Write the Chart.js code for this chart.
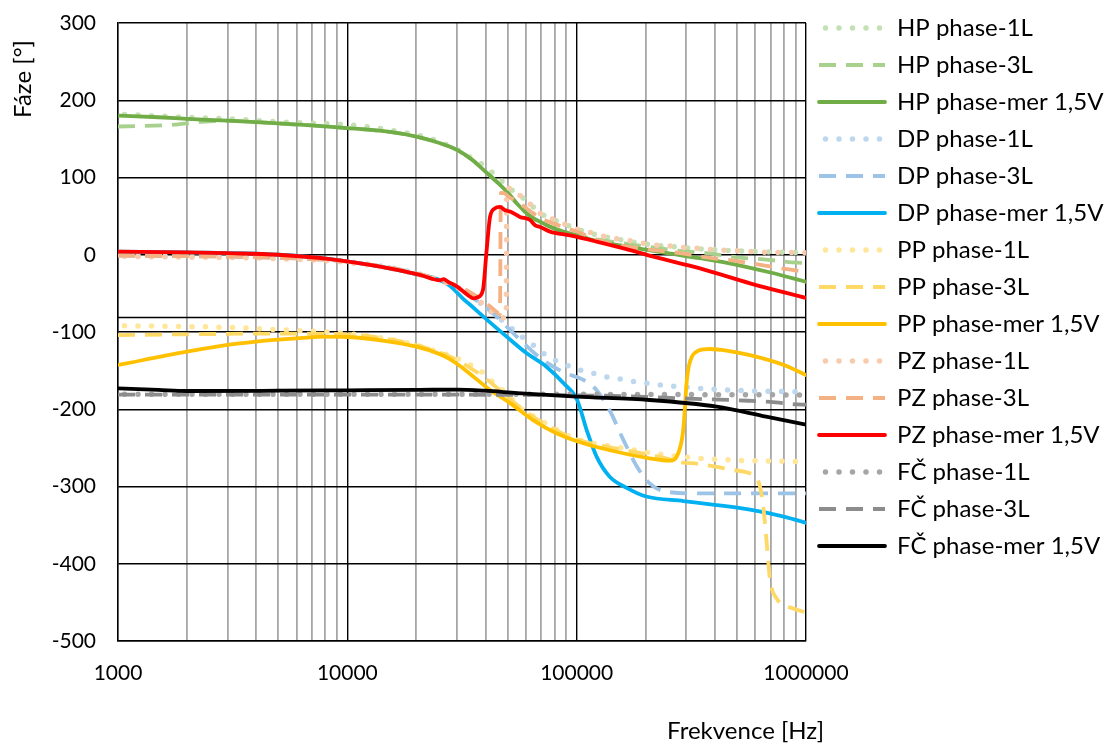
<!DOCTYPE html>
<html><head><meta charset="utf-8">
<script src="https://cdn.jsdelivr.net/npm/chart.js@4.4.1/dist/chart.umd.min.js"></script>
<style>html,body{margin:0;padding:0;background:#fff;}#wrap{width:1106px;height:745px;position:relative;}</style>
</head><body><div id="wrap"><canvas id="c"></canvas></div>
<script>
// ---- axis / tick data ----
const xDecades = [1000, 10000, 100000, 1000000];
const xMinor = [2, 3, 4, 5, 6, 7, 8, 9];
const yMin = -500, yMax = 300, yStep = 100;
const axisCross = -80;
const xTitle = 'Frekvence [Hz]';
const yTitle = 'Fáze [°]';

const seriesNames = [
  'HP phase-1L', 'HP phase-3L', 'HP phase-mer 1,5V',
  'DP phase-1L', 'DP phase-3L', 'DP phase-mer 1,5V',
  'PP phase-1L', 'PP phase-3L', 'PP phase-mer 1,5V',
  'PZ phase-1L', 'PZ phase-3L', 'PZ phase-mer 1,5V',
  'FČ phase-1L', 'FČ phase-3L', 'FČ phase-mer 1,5V'
];

// ---- series values [frequency Hz, phase °] ----
const HP_1L = [[1000,182],[2000,178],[3000,176],[5000,172],[10200,168],[15300,161.5],[20000,155],[23000,150.7],[26200,144],[29500,137.8],[33000,129],[37600,119.6],[42000,108.8],[46300,97.6],[51000,86],[57500,75],[63500,64],[71000,52],[80000,45],[90000,39],[103000,32],[135000,23],[200000,14],[300000,9],[500000,5],[1000000,2.5]];
const HP_3L = [[1000,166],[1700,168],[2300,172],[3000,173.5],[5000,170],[10000,164],[15300,159],[20000,153],[25000,145],[30000,136],[35000,123],[40000,107.5],[45000,94],[49500,82],[55000,66],[62600,50],[80000,34],[100000,25],[135000,18],[209000,10],[283000,5],[369000,2],[499000,-3.4],[652000,-5.9],[872000,-9.8],[1000000,-11]];
const HP_MER = [[1000,180],[1500,178],[2000,176],[3000,173.5],[5000,170],[7000,167.5],[10000,164],[15300,159],[20000,153],[25000,145],[30000,136],[35000,123],[40000,107.5],[45000,94],[49500,82],[55000,66],[62600,50],[70000,42],[80000,34],[100000,25],[126000,17],[171000,10],[250000,2],[345000,-4.5],[500000,-13],[700000,-23],[1000000,-35]];

const DP_1L = [[1000,-1],[5000,-4],[10000,-9],[20000,-24],[30000,-42],[35000,-55],[40000,-68],[45000,-80],[51000,-93],[57000,-105],[63500,-115],[71000,-126.8],[80000,-136],[90000,-142.7],[103000,-149],[118000,-153.5],[135000,-158],[155000,-161],[177000,-164],[202000,-166.4],[230000,-168.6],[263000,-170],[345000,-173],[450000,-175],[600000,-176.4],[795000,-177],[1000000,-178]];
const DP_3L = [[1000,-1],[5000,-4],[10000,-9],[20000,-24],[30000,-42],[35000,-55],[40000,-68],[43300,-76],[54800,-106],[71000,-136],[90000,-153.5],[107000,-162],[122000,-175],[139000,-201],[160000,-240],[183000,-274],[208000,-296],[245000,-306.7],[345000,-309],[1000000,-309]];
const DP_MER = [[1000,4],[2000,3],[5000,0],[8400,-5.6],[13900,-15.4],[20700,-26],[25400,-33],[28000,-40],[32000,-57],[35000,-67],[39200,-80],[44000,-93],[49500,-106],[60600,-127.6],[73800,-145],[87700,-166.4],[100500,-188],[110600,-227],[122000,-261],[139000,-287],[166000,-302],[201000,-313],[292000,-318.8],[408000,-324],[570000,-330],[800000,-339],[1000000,-347]];

const PP_1L = [[1000,-91.8],[2000,-93],[3000,-94],[5000,-97],[8000,-100],[10000,-102],[15000,-109],[20000,-117],[25000,-126],[29000,-132],[33200,-140.5],[38000,-150],[42000,-162],[46000,-171.5],[51000,-183.7],[56000,-196.7],[63000,-207],[71000,-216],[80000,-224.7],[90000,-233],[103000,-239.8],[118000,-244],[135000,-247],[155000,-249.7],[177000,-252.7],[202000,-256],[230000,-258],[263000,-260.5],[302000,-262],[345000,-263.5],[500000,-266],[1000000,-268]];
const PP_3L = [[1000,-104],[2000,-103],[5000,-102],[10000,-103],[15000,-109],[20000,-117],[25000,-126],[30000,-136],[35000,-148],[40000,-160],[50000,-184],[60000,-203],[80000,-226],[100000,-239],[150000,-251],[200000,-258],[255000,-265],[276000,-268],[345000,-271],[480000,-278.6],[570000,-283],[605000,-288],[630000,-300],[651000,-326],[674000,-373],[697000,-421],[745000,-445],[881000,-458],[1000000,-463]];
const PP_MER = [[1000,-142.7],[2000,-125.5],[3000,-116.8],[4000,-112.5],[5000,-110],[6200,-108],[8000,-106],[10000,-106.5],[15000,-112],[20000,-119],[25000,-128],[28000,-135],[31000,-144],[34200,-154],[41900,-175],[51200,-192],[64500,-214],[81600,-231],[107000,-244],[149000,-255],[208000,-263.5],[255000,-266.6],[272000,-262],[285000,-245],[292000,-225],[297000,-195],[301000,-168],[308000,-145],[318000,-132],[340000,-124],[380000,-122],[450000,-124],[570000,-130],[800000,-142.7],[1000000,-155.7]];

const PZ_1L = [[1000,-2],[2000,-3],[5000,-5],[10000,-10],[15000,-17],[20000,-25],[25000,-33],[30000,-42],[35000,-53],[37900,-60.7],[41900,-71.5],[46300,-80],[49300,-82],[49600,86],[51200,86],[57500,75],[63500,64],[71300,51],[80400,45],[90400,38.5],[103000,32],[118000,28],[135000,23],[154000,20],[176000,17.5],[202000,14],[230000,12],[265000,11],[302000,9],[347000,8],[398000,6.5],[455000,5.6],[523000,5],[600000,4],[688000,3],[790000,3],[909000,2.6],[1000000,2.5]];
const PZ_3L = [[1000,-1],[5000,-4],[10000,-9],[20000,-24],[30000,-40],[35000,-50],[40000,-62],[44000,-72],[46300,-77],[46700,80],[47600,80],[51200,74],[55000,69],[63000,56],[70000,47],[80000,40],[100000,30],[130000,17],[209000,6.5],[283000,2],[369000,-3.4],[499000,-8.2],[652000,-13.7],[872000,-19.7],[1000000,-22]];
const PZ_MER = [[1000,4],[2000,3],[3000,2],[5000,0],[8400,-5.6],[13900,-15.4],[20700,-26],[25400,-33],[26300,-31.5],[27500,-35],[30000,-41],[34200,-54],[35400,-56.4],[37000,-55],[39000,-46],[40500,6],[41900,49],[44000,60],[46300,62],[48500,58],[51200,56],[56600,49],[62600,45],[66000,38],[69200,36],[76500,30],[93500,25],[122000,17],[171000,6],[216000,-2.5],[345000,-17.6],[570000,-37],[1000000,-56]];

const FC_1L = [[1000,-180.6],[10000,-180.6],[100000,-180.7],[300000,-181],[1000000,-181.5]];
const FC_3L = [[1000,-181],[10000,-181],[100000,-182],[200000,-184],[290000,-186],[420000,-187.5],[560000,-189],[700000,-190.5],[910000,-193.6],[1000000,-194]];
const FC_MER = [[1000,-173],[1500,-175],[2000,-176.4],[5000,-176],[10000,-175.5],[20000,-175],[30000,-174.5],[40000,-176],[55000,-179],[100000,-183.7],[208000,-188],[408000,-196.7],[670000,-209.6],[1000000,-220]];

const seriesData = [HP_1L, HP_3L, HP_MER, DP_1L, DP_3L, DP_MER, PP_1L, PP_3L, PP_MER, PZ_1L, PZ_3L, PZ_MER, FC_1L, FC_3L, FC_MER];
const seriesColors = ['#C5E0B4','#A9D18E','#70AD47','#BDD7EE','#9DC3E6','#00B0F0','#FFE699','#FFD966','#FFC000','#F8CBAD','#F4B183','#FF0000','#A5A5A5','#8C8C8C','#000000'];
const seriesKind = ['dot','dash','solid','dot','dash','solid','dot','dash','solid','dot','dash','solid','dot','dash','solid'];

// ---- styles ----
const FONT = 'Lato, "Open Sans", sans-serif';
const styleFor = {
  dot:   {borderWidth: 5.5, borderDash: [0, 13.5], borderCapStyle: 'round', borderDashOffset: 7},
  dash:  {borderWidth: 3.8, borderDash: [17, 10],  borderCapStyle: 'butt',  borderDashOffset: 0},
  solid: {borderWidth: 3.8, borderDash: [],        borderCapStyle: 'round', borderDashOffset: 0}
};

const datasets = seriesData.map((d, i) => Object.assign({
  label: seriesNames[i],
  data: d,
  borderColor: seriesColors[i],
  backgroundColor: seriesColors[i],
  pointRadius: 0,
  pointHoverRadius: 0,
  fill: false,
  cubicInterpolationMode: 'monotone',
  borderJoinStyle: 'round',
  order: -i
}, styleFor[seriesKind[i]]));

const gridValues = [];
xDecades.forEach((d, k) => {
  gridValues.push(d);
  if (k < xDecades.length - 1) xMinor.forEach(m => gridValues.push(d * m));
});

const crossLine = {
  id: 'crossLine',
  beforeDatasetsDraw(chart) {
    const {ctx, chartArea, scales} = chart;
    const y = Math.round(scales.y.getPixelForValue(axisCross)) + 0.5;
    ctx.save();
    ctx.strokeStyle = '#000';
    ctx.lineWidth = 1.5;
    ctx.beginPath();
    ctx.moveTo(chartArea.left, y);
    ctx.lineTo(chartArea.right, y);
    ctx.stroke();
    ctx.restore();
  }
};

const axisTitles = {
  id: 'axisTitles',
  afterDraw(chart) {
    const {ctx, chartArea} = chart;
    ctx.save();
    ctx.fillStyle = '#000';
    ctx.font = '24px ' + FONT;
    ctx.textAlign = 'right';
    ctx.textBaseline = 'middle';
    ctx.fillText(xTitle, chartArea.right + 18, chartArea.bottom + 90);
    ctx.translate(23, chartArea.top + 56);
    ctx.rotate(-Math.PI / 2);
    ctx.textAlign = 'center';
    ctx.fillText(yTitle, 0, 0);
    ctx.restore();
  }
};

function legendItems(chart) {
  return chart.data.datasets.map((ds, i) => ({
    text: ds.label,
    fillStyle: ds.borderColor,
    strokeStyle: ds.borderColor,
    fontColor: '#000',
    lineWidth: ds.borderWidth,
    lineDash: ds.borderDash,
    lineDashOffset: ds.borderDashOffset,
    lineCap: ds.borderCapStyle,
    lineJoin: 'round',
    pointStyle: 'line',
    hidden: false,
    datasetIndex: i
  }));
}

function build() {
  new Chart(document.getElementById('c'), {
    type: 'line',
    data: {datasets},
    plugins: [crossLine, axisTitles],
    options: {
      responsive: true,
      maintainAspectRatio: false,
      animation: false,
      events: [],
      layout: {padding: {top: 3, left: 0, right: 0, bottom: 0}},
      plugins: {
        tooltip: {enabled: false},
        title: {display: false},
        legend: {
          position: 'right',
          align: 'start',
          maxWidth: 300,
          labels: {
            usePointStyle: true,
            pointStyle: 'line',
            pointStyleWidth: 66,
            padding: 13,
            color: '#000',
            font: {family: FONT, size: 24},
            generateLabels: legendItems
          }
        }
      },
      scales: {
        x: {
          type: 'logarithmic',
          min: xDecades[0],
          max: xDecades[xDecades.length - 1],
          afterBuildTicks: (s) => { s.ticks = gridValues.map(v => ({value: v, major: xDecades.includes(v)})); },
          afterFit: (a) => { a.height = 104; },
          ticks: {
            autoSkip: false,
            maxRotation: 0,
            padding: 20,
            color: '#000',
            font: {family: FONT, size: 21},
            callback: (v) => xDecades.includes(v) ? String(v) : ''
          },
          grid: {
            drawTicks: false,
            color: (c) => (c.tick && xDecades.includes(c.tick.value)) ? '#000' : '#A6A6A6',
            lineWidth: (c) => (c.tick && xDecades.includes(c.tick.value)) ? 1.4 : 1.8
          },
          border: {display: true, color: '#000', width: 1.4}
        },
        y: {
          min: yMin,
          max: yMax,
          afterFit: (a) => { a.width = 118; a.paddingTop = 23; },
          ticks: {
            stepSize: yStep,
            padding: 22,
            color: '#000',
            font: {family: FONT, size: 21}
          },
          grid: {drawTicks: false, color: '#000', lineWidth: 1.4},
          border: {display: true, color: '#000', width: 1.4}
        }
      }
    }
  });
}

if (document.fonts && document.fonts.load) {
  Promise.all([document.fonts.load('21px Lato'), document.fonts.load('24px Lato')]).then(build, build);
} else { build(); }
</script>
</body></html>
